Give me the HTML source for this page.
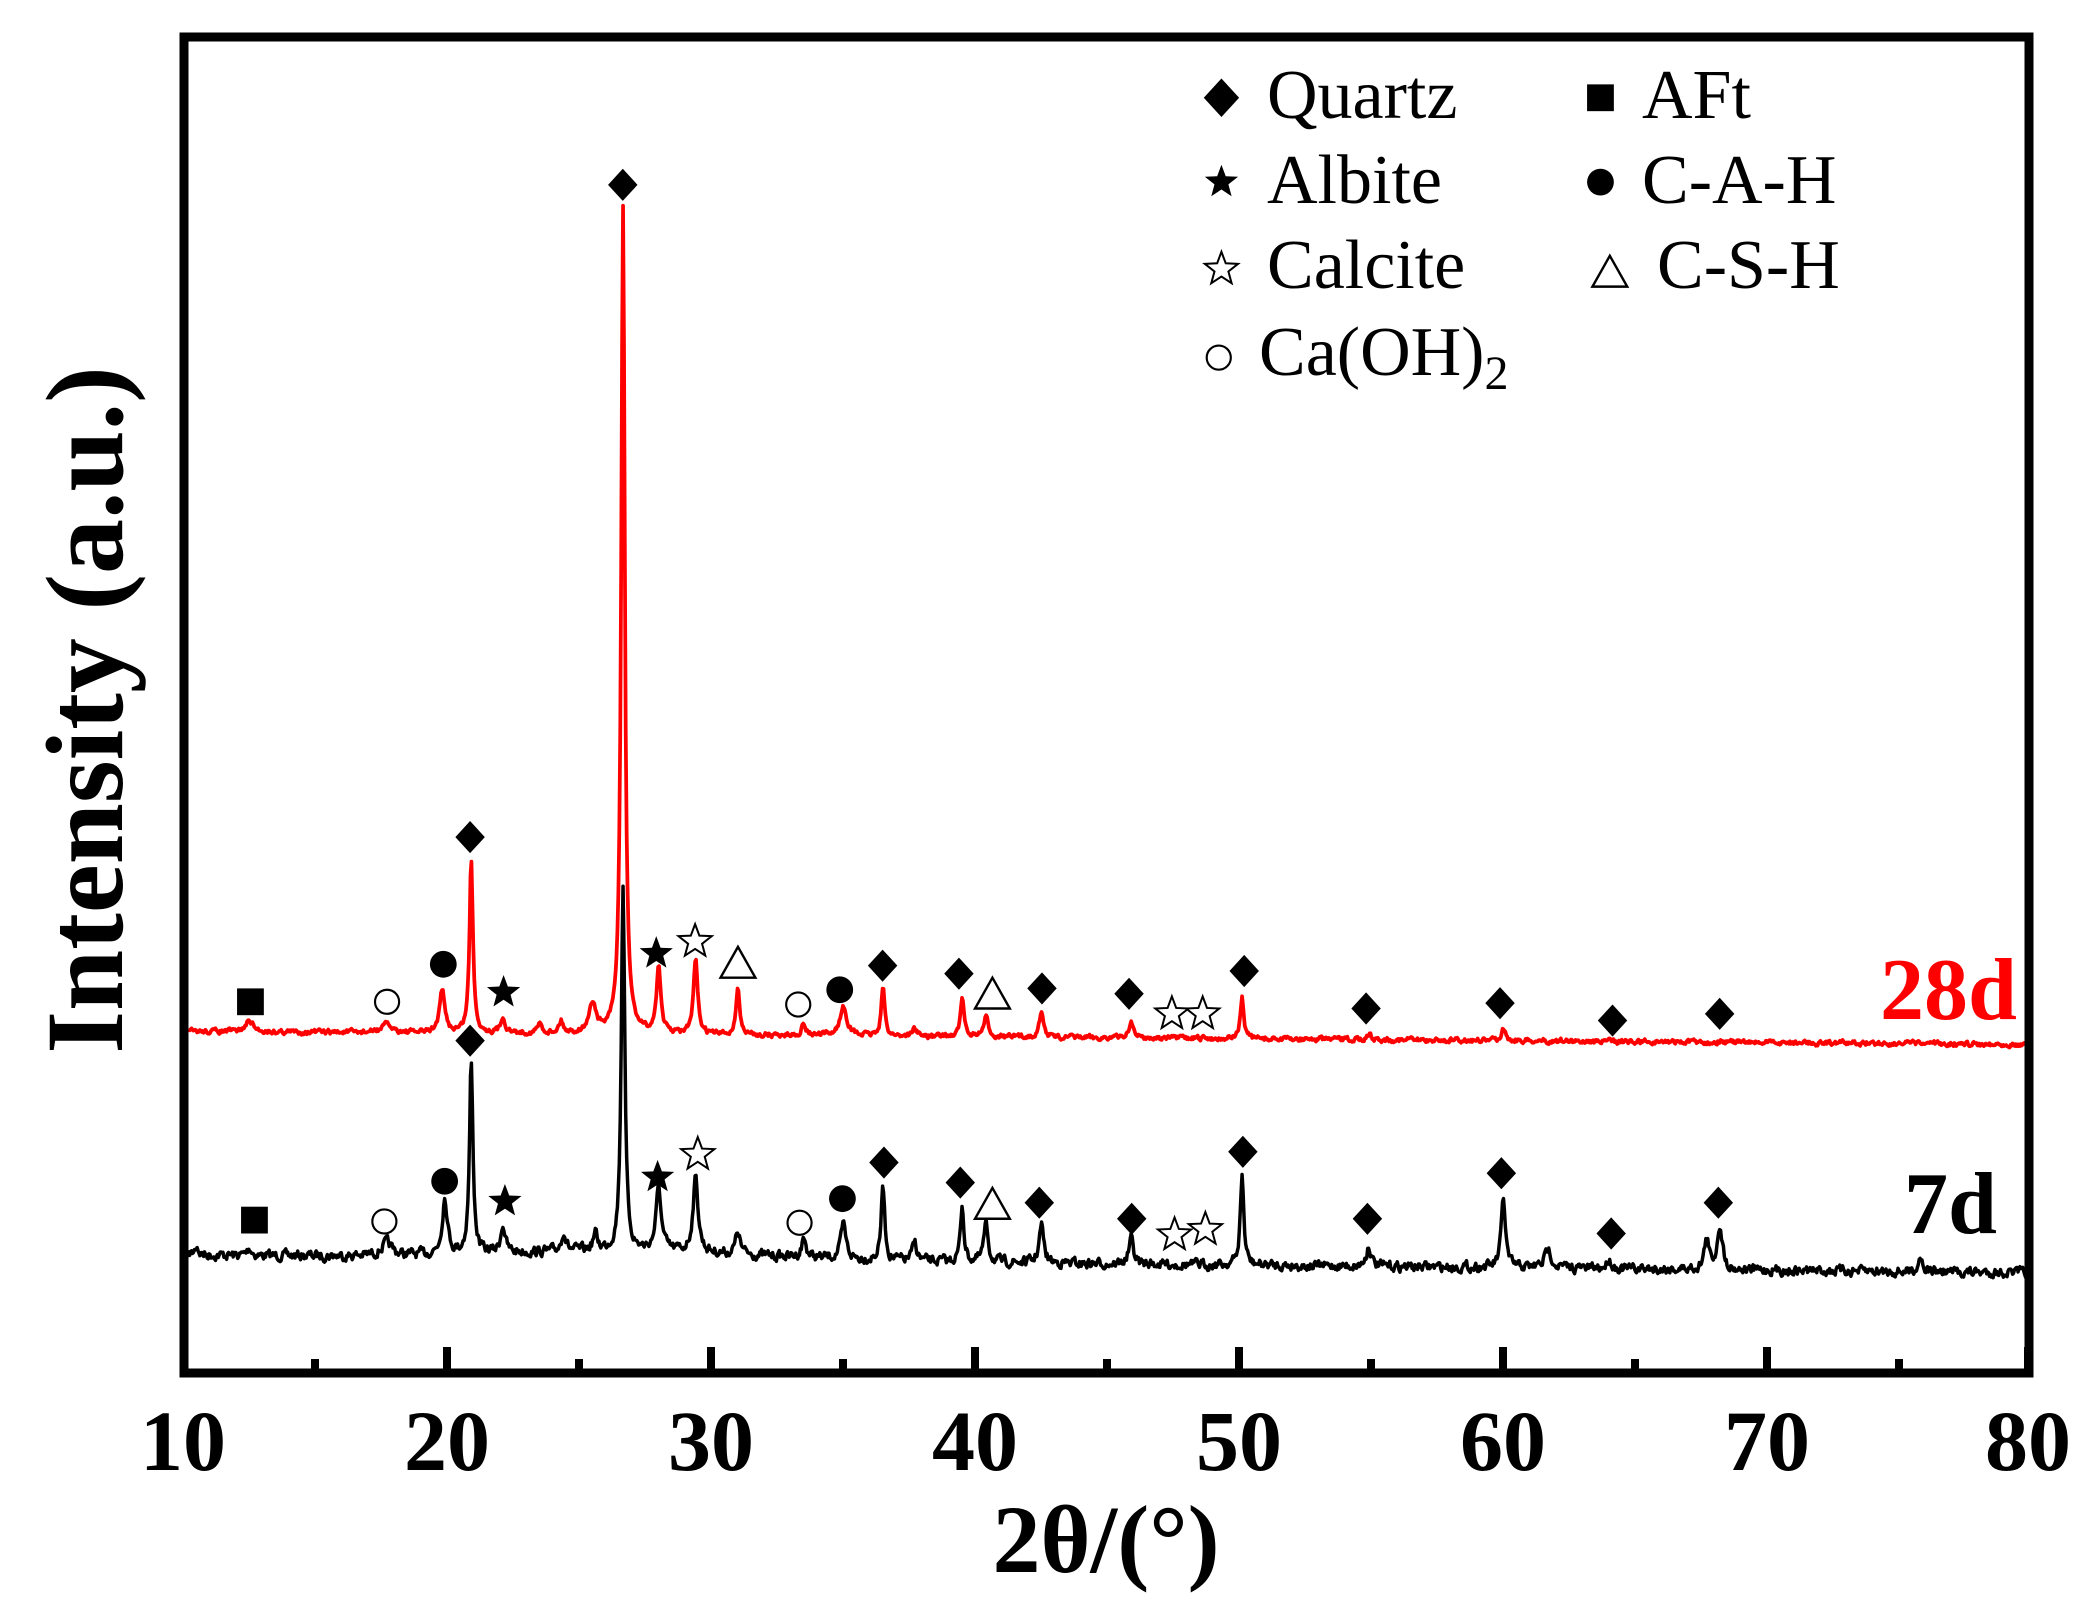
<!DOCTYPE html>
<html><head><meta charset="utf-8"><style>
html,body{margin:0;padding:0;background:#fff}
svg{display:block}
text{font-family:"Liberation Serif","Times New Roman",serif}
</style></head><body>
<svg id="s" width="2100" height="1624" viewBox="0 0 2100 1624" xmlns="http://www.w3.org/2000/svg">
<rect width="2100" height="1624" fill="#fff"/>
<g id="curves" transform="scale(1.3393)"></g>
<g id="marks" transform="scale(1.3393)"></g>
<rect x="184" y="37" width="1845" height="1336" fill="none" stroke="#000" stroke-width="9"/>
<g id="ticks" stroke="#000" stroke-width="8"></g>
<g font-weight="bold" font-size="86" text-anchor="middle" fill="#000">
<text x="183" y="1470">10</text><text x="447" y="1470">20</text><text x="711" y="1470">30</text><text x="975" y="1470">40</text>
<text x="1239" y="1470">50</text><text x="1503" y="1470">60</text><text x="1767" y="1470">70</text><text x="2028" y="1470">80</text>
</g>
<text x="1106" y="1572" font-size="96" font-weight="bold" text-anchor="middle">2θ/(°)</text>
<text transform="translate(122,710) rotate(-90)" font-size="110" font-weight="bold" text-anchor="middle">Intensity (a.u.)</text>
<text x="2017" y="1019" font-size="88" font-weight="bold" text-anchor="end" fill="#f00">28d</text>
<text x="1997" y="1233" font-size="88" font-weight="bold" text-anchor="end">7d</text>
<g font-size="70">
<text x="1267" y="118">Quartz</text><text x="1267" y="203">Albite</text><text x="1267" y="288">Calcite</text>
<text x="1259" y="375">Ca(OH)<tspan font-size="48" dy="14">2</tspan></text>
<text x="1642" y="118">AFt</text><text x="1642" y="203">C-A-H</text><text x="1657" y="288">C-S-H</text>
</g>
</svg>
<script>
(function(){
var NS="http://www.w3.org/2000/svg";
function el(p,n,a){var e=document.createElementNS(NS,n);for(var k in a)e.setAttribute(k,a[k]);p.appendChild(e);return e;}
var ticks=document.getElementById('ticks');
for(var t=10;t<=80;t+=5){var x=183+(t-10)*26.4;if(t===80)x=2028;if(t===10)continue;var L=(t%10===0)?22:10;el(ticks,'line',{x1:x,y1:1369,x2:x,y2:1369-L});}
function X(th){return 137+(th-10)*19.71;}
var seed=7;function rnd(){seed=(seed*16807)%2147483647;return seed/2147483647;}
function curve(base,peaks,noise,color,sw){
  var d='';var prev=0;
  for(var th=10.2;th<=79.95;th+=0.035){
    var b=base(th);var y=b;
    for(var i=0;i<peaks.length;i++){var p=peaks[i];var w=p[2]||0.13;var u=(th-p[0])/w;y-= (b-p[1])/(1+u*u*1.6);}
    prev=prev*0.5+(rnd()-0.5)*noise;y+=prev;
    d+=(d?'L':'M')+X(th).toFixed(1)+' '+y.toFixed(1);
  }
  el(document.getElementById('curves'),'path',{d:d,fill:'none',stroke:color,'stroke-width':sw,'stroke-linejoin':'round'});
}
var b7=function(th){var v=937+(th-10)*0.19;v-=6*Math.exp(-Math.pow((th-27)/7,2));return v;};
curve(b7,[[10.5,930,0.1],[12.5,932],[17.7,928,0.3],[19.9,895,0.15],[20.9,793,0.1],[22.1,915],[24.4,920],[25.6,922],[26.65,660,0.1],[28.0,888,0.15],[29.4,880,0.15],[31,920],[33.5,925],[35.0,915,0.15],[36.5,885,0.1],[37.7,928],[39.5,900,0.1],[40.4,915],[42.5,915],[45.9,925],[50.1,878,0.1],[54.9,930],[60.0,895,0.12],[61.7,933,0.2],[64.0,940],[67.7,925],[68.2,915,0.15],[75.8,938]],6,'#000',2.6);
var b28=function(th){return 770+(th-10)*0.14;};
curve(b28,[[12.5,762,0.2],[17.7,765,0.3],[19.8,740,0.15],[20.9,643,0.1],[22.1,760],[23.5,765],[24.3,763],[25.5,750,0.2],[26.65,155,0.1],[28.0,722,0.12],[29.4,718,0.12],[31.0,737,0.1],[33.5,765],[35.0,752,0.2],[36.5,738,0.1],[37.7,768],[39.5,745,0.1],[40.4,760],[42.5,757],[45.9,763],[50.1,745,0.1],[54.9,772],[60.0,768],[68.2,777]],3,'#f00',2.8);
var m=document.getElementById('marks');
function dia(x,y,s){s=s||1;el(m,'path',{d:'M'+x+' '+(y-12*s)+'L'+(x+11*s)+' '+y+'L'+x+' '+(y+12*s)+'L'+(x-11*s)+' '+y+'Z',fill:'#000'});}
function sq(x,y){el(m,'rect',{x:x-10,y:y-10,width:20,height:20,fill:'#000'});}
function ci(x,y){el(m,'circle',{cx:x,cy:y,r:9,fill:'#fff',stroke:'#000','stroke-width':1.6});}
function fc(x,y){el(m,'circle',{cx:x,cy:y,r:10,fill:'#000'});}
function star(x,y,f,r){r=r||13;var d='';for(var i=0;i<10;i++){var a=-Math.PI/2+i*Math.PI/5;var rr=i%2?r*0.42:r;d+=(i?'L':'M')+(x+rr*Math.cos(a)).toFixed(1)+' '+(y+rr*Math.sin(a)).toFixed(1);}
 el(m,'path',{d:d+'Z',fill:f?'#000':'#fff',stroke:'#000','stroke-width':f?0:1.5});}
function tri(x,y){el(m,'path',{d:'M'+x+' '+(y-12)+'L'+(x+13)+' '+(y+11)+'L'+(x-13)+' '+(y+11)+'Z',fill:'#fff',stroke:'#000','stroke-width':1.8});}
// 28d
sq(187,748);ci(289,748);fc(331,720);star(376,741,1);dia(351,625);dia(465,138);star(490,712,1);star(519,703,0);tri(551,719);ci(596,750);fc(627,739);
[[659,721],[716,727],[778,738],[843,742],[929,725],[1020,753],[1120,749],[1204,762],[1284,757]].forEach(function(p){dia(p[0],p[1]);});
tri(741,742);star(875,757,0);star(898,757,0);
// 7d
sq(190,911);ci(287,912);fc(332,882);star(377,897,1);dia(351,777);star(491,879,1);star(521,862,0);ci(597,913);fc(629,895);
[[660,868],[717,883],[776,898],[845,910],[928,860],[1021,910],[1121,876],[1203,921],[1283,898]].forEach(function(p){dia(p[0],p[1]);});
tri(741,899);star(877,922,0);star(900,918,0);
// legend
dia(912,73,1.2);sq(1195,73);star(912,136,1,13);fc(1195,136);star(912,201,0,13);tri(1202,203);ci(910,267);
})();
</script>
</body></html>
